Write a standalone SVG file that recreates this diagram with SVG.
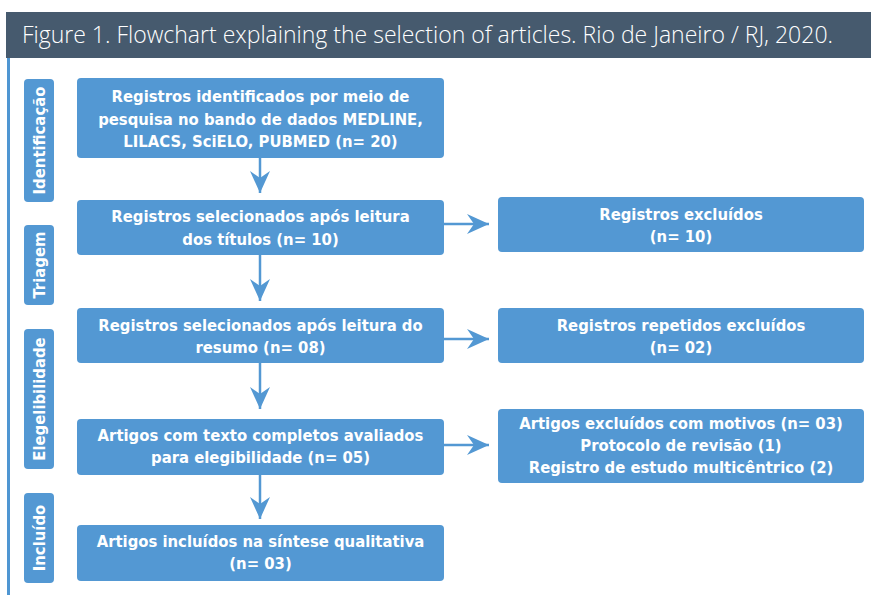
<svg xmlns="http://www.w3.org/2000/svg" width="871" height="595" viewBox="0 0 871 595">
<defs>
<style>
.box{fill:#5398d3;}
.t{font-family:"DejaVu Sans Condensed","DejaVu Sans",sans-serif;font-weight:bold;font-size:16.5px;fill:#fff;text-anchor:middle;}
.side{font-family:"DejaVu Sans Condensed","DejaVu Sans",sans-serif;font-weight:bold;font-size:16.5px;fill:#fff;text-anchor:middle;}
.c{stroke:#5398d3;stroke-width:2.5;fill:none;}
.title{font-family:"Open Sans","Noto Sans",sans-serif;font-weight:300;font-size:24px;fill:#fff;}
</style>
<marker id="ah" viewBox="0 0 22 20" refX="22" refY="10" markerWidth="22" markerHeight="20" markerUnits="userSpaceOnUse" orient="auto">
<path d="M0,0 L22,10 L0,20 L7,10 Z" fill="#5398d3"/>
</marker>
</defs>
<rect width="871" height="595" fill="#fff"/>
<g id="title">
<rect x="6" y="12" width="865" height="46" fill="#465a6e"/>
<text class="title" x="22" y="43" textLength="811" lengthAdjust="spacingAndGlyphs">Figure 1. Flowchart explaining the selection of articles. Rio de Janeiro / RJ, 2020.</text>
</g>
<rect x="7" y="58" width="3" height="537" fill="#4f96d2"/>
<g id="stage-identificacao"><rect class="box" x="24" y="79" width="30" height="123" rx="4"/><text class="side" transform="translate(45,140.5) rotate(-90)">Identificação</text></g>
<g id="stage-triagem"><rect class="box" x="24" y="225" width="30" height="80" rx="4"/><text class="side" transform="translate(45,265) rotate(-90)">Triagem</text></g>
<g id="stage-elegibilidade"><rect class="box" x="24" y="329" width="30" height="140" rx="4"/><text class="side" transform="translate(45,399) rotate(-90)">Elegelibilidade</text></g>
<g id="stage-incluido"><rect class="box" x="24" y="493" width="30" height="90" rx="4"/><text class="side" transform="translate(45,538) rotate(-90)">Incluído</text></g>
<g id="connectors">
<line class="c" x1="260" y1="158" x2="260" y2="193" marker-end="url(#ah)"/>
<line class="c" x1="260" y1="255" x2="260" y2="301" marker-end="url(#ah)"/>
<line class="c" x1="260" y1="363" x2="260" y2="409" marker-end="url(#ah)"/>
<line class="c" x1="260" y1="475" x2="260" y2="519" marker-end="url(#ah)"/>
<line class="c" x1="444" y1="224" x2="489" y2="224" marker-end="url(#ah)"/>
<line class="c" x1="444" y1="339" x2="489" y2="339" marker-end="url(#ah)"/>
<line class="c" x1="444" y1="445" x2="489" y2="445" marker-end="url(#ah)"/>
</g>
<g id="n1"><rect class="box" x="77" y="78" width="367" height="80" rx="4"/>
<text class="t" x="260.5" y="102">Registros identificados por meio de</text>
<text class="t" x="260.5" y="124.5">pesquisa no bando de dados MEDLINE,</text>
<text class="t" x="260.5" y="147">LILACS, SciELO, PUBMED (n= 20)</text></g>
<g id="n2"><rect class="box" x="77" y="200" width="367" height="55" rx="4"/>
<text class="t" x="260.5" y="222">Registros selecionados após leitura</text>
<text class="t" x="260.5" y="245">dos títulos (n= 10)</text></g>
<g id="n3"><rect class="box" x="77" y="308" width="367" height="55" rx="4"/>
<text class="t" x="260.5" y="331">Registros selecionados após leitura do</text>
<text class="t" x="260.5" y="353">resumo (n= 08)</text></g>
<g id="n4"><rect class="box" x="77" y="419" width="367" height="56" rx="4"/>
<text class="t" x="260.5" y="441">Artigos com texto completos avaliados</text>
<text class="t" x="260.5" y="463">para elegibilidade (n= 05)</text></g>
<g id="n5"><rect class="box" x="77" y="525" width="367" height="56" rx="4"/>
<text class="t" x="260.5" y="547">Artigos incluídos na síntese qualitativa</text>
<text class="t" x="260.5" y="568.5">(n= 03)</text></g>
<g id="r1"><rect class="box" x="498" y="197" width="366" height="55" rx="4"/>
<text class="t" x="681" y="220">Registros excluídos</text>
<text class="t" x="681" y="242">(n= 10)</text></g>
<g id="r2"><rect class="box" x="498" y="308" width="366" height="55" rx="4"/>
<text class="t" x="681" y="331">Registros repetidos excluídos</text>
<text class="t" x="681" y="353">(n= 02)</text></g>
<g id="r3"><rect class="box" x="498" y="409" width="366" height="74" rx="4"/>
<text class="t" x="681" y="429">Artigos excluídos com motivos (n= 03)</text>
<text class="t" x="681" y="451">Protocolo de revisão (1)</text>
<text class="t" x="681" y="473">Registro de estudo multicêntrico (2)</text></g>
</svg>
